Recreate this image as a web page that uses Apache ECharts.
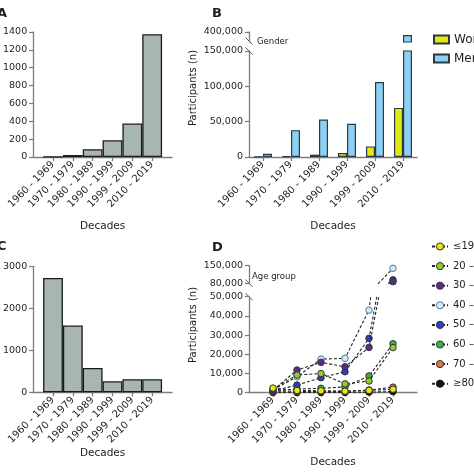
<!DOCTYPE html>
<html><head><meta charset="utf-8">
<script src="https://cdn.jsdelivr.net/npm/echarts@6/dist/echarts.min.js"></script>
<style>html,body{margin:0;padding:0;background:#fff}#c{width:474px;height:474px}</style>
</head><body><div id="c"></div>
<script>
// ---- data ----
const decades = ['1960 - 1969','1970 - 1979','1980 - 1989','1990 - 1999','1999 - 2009','2010 - 2019'];
const studiesA = [2, 22, 88, 188, 375, 1375];
const studiesC = [2720, 1590, 580, 262, 310, 310];
const genderNames = ['Women', 'Men'];
const women = [100, 1000, 3300, 5600, 15000, 69500];
const men = [4700, 38000, 53000, 47000, 106000, 385000];
const ageGroups = ['≤19','20 – 29','30 – 39','40 – 49','50 – 59','60 – 69','70 – 79','≥80'];
const age19 = [2400, 1200, 1000, 800, 1200, 1800];
const age20 = [2000, 9200, 10000, 4600, 6100, 23500];
const age30 = [1200, 11800, 15800, 13500, 23600, 88000];
const age40 = [1500, 8300, 17500, 17900, 43000, 140000];
const age50 = [900, 4000, 7800, 10900, 28300, 95000];
const age60 = [700, 1900, 2300, 3000, 8700, 25500];
const age70 = [300, 600, 700, 700, 1400, 2900];
const age80 = [100, 100, 150, 150, 300, 600];
const ticksA = [0, 200, 400, 600, 800, 1000, 1200, 1400];
const ticksC = [0, 1000, 2000, 3000];
const ticksBLow = [0, 50000, 100000, 150000];
const ticksBHigh = [400000];
const ticksDLow = [0, 10000, 20000, 30000, 40000, 50000];
const ticksDHigh = [80000, 150000];

// ---- styling ----
const FONT = 'DejaVu Sans';
const GREY = '#7d7d7d';
const TXT = '#1e1e1e';
const BAR_GREY = '#a8b6b1';
const womenColor = '#e2ea12';
const menColor = '#8ed0f4';
const ageFill = ['#e6ea10','#92cc2c','#5a2a8f','#d4ebf7','#2c3fc0','#3caf4c','#d77a45','#111111'];
const ageBorder = ['#333','#333','#333','#4b7aa4','#333','#333','#333','#111'];
const ageData = [age19, age20, age30, age40, age50, age60, age70, age80];

const padCat = [''].concat(decades, ['']);
const pad = a => [null].concat(a, [null]);
const fmtComma = v => Number(v).toLocaleString('en-US');
const inRange = (a, lo) => a.map(v => v >= lo ? v : null);

function xCat(gridIndex, data, boundary, show) {
  return {
    gridIndex, type: 'category', data, boundaryGap: boundary, show,
    axisLine: {show: true, lineStyle: {color: GREY, width: 1.3}},
    axisTick: boundary ? {show: true, alignWithLabel: true, length: 4, lineStyle: {color: GREY, width: 1.3}}
                       : {show: true, length: 4, interval: (i) => i > 0 && i < data.length - 1, lineStyle: {color: GREY, width: 1.3}},
    axisLabel: {interval: 0, rotate: 45, margin: 6, fontFamily: FONT, fontSize: 10, color: TXT},
    name: 'Decades', nameLocation: 'middle', nameGap: 64,
    nameTextStyle: {fontFamily: FONT, fontSize: 10.5, color: TXT},
    splitLine: {show: false}
  };
}
function yVal(gridIndex, min, max, ticks, comma) {
  return {
    gridIndex, type: 'value', min, max,
    axisLine: {show: true, lineStyle: {color: GREY, width: 1.3}},
    axisTick: {show: true, length: 4, customValues: ticks, lineStyle: {color: GREY, width: 1.3}},
    axisLabel: {margin: 6, customValues: ticks, formatter: comma ? fmtComma : (v => String(v)),
                fontFamily: FONT, fontSize: 9.5, color: TXT},
    splitLine: {show: false}
  };
}

const grids = [
  {left: 32, top: 32, width: 140, height: 125},      // A
  {left: 249, top: 51, width: 168, height: 106},     // B low
  {left: 249, top: 32, width: 168, height: 10},      // B high
  {left: 32, top: 266.3, width: 140, height: 126},   // C
  {left: 249, top: 296.7, width: 168, height: 96},   // D low
  {left: 249, top: 265.7, width: 168, height: 18}    // D high
];

const xHidden = (gi, data, boundary) => ({gridIndex: gi, type: 'category', data, boundaryGap: boundary, show: false});

const xAxes = [
  xCat(0, padCat, false, true),
  xCat(1, decades, true, true),
  xHidden(2, decades, true),
  Object.assign(xCat(3, padCat, false, true), {nameGap: 51}),
  xCat(4, padCat, false, true),
  xHidden(5, padCat, false)
];
const yAxes = [
  yVal(0, 0, 1400, ticksA, false),
  yVal(1, 0, 150000, ticksBLow, true),
  yVal(2, 350000, 400000, ticksBHigh, true),
  yVal(3, 0, 3000, ticksC, false),
  yVal(4, 0, 50000, ticksDLow, true),
  yVal(5, 80000, 150000, ticksDHigh, true)
];

const barStyle = c => ({color: c, borderColor: '#1a1a1a', borderWidth: 1.3});
const series = [];
series.push({type: 'bar', xAxisIndex: 0, yAxisIndex: 0, data: pad(studiesA), barCategoryGap: '0%', itemStyle: barStyle(BAR_GREY)});
series.push({type: 'bar', xAxisIndex: 3, yAxisIndex: 3, data: pad(studiesC), barCategoryGap: '0%', itemStyle: barStyle(BAR_GREY)});
const gData = [women, men];
const gCol = [womenColor, menColor];
[0, 1].forEach(i => {
  series.push({type: 'bar', name: genderNames[i], xAxisIndex: 1, yAxisIndex: 1, data: gData[i], barWidth: 9, barGap: '0%', clip: true,
    itemStyle: Object.assign(barStyle(gCol[i]), {borderColor: '#2a3a44', borderWidth: 1.2})});
});
[0, 1].forEach(i => {
  series.push({type: 'bar', name: genderNames[i], xAxisIndex: 2, yAxisIndex: 2, data: inRange(gData[i], 350000), barWidth: 9, barGap: '0%', clip: true,
    itemStyle: Object.assign(barStyle(gCol[i]), {borderColor: '#2a3a44', borderWidth: 1.2})});
});
ageGroups.forEach((name, i) => {
  [[4, 4], [5, 5]].forEach(([xi, yi]) => {
    series.push({
      type: 'line', name, xAxisIndex: xi, yAxisIndex: yi, data: pad(ageData[i]), clip: true,
      symbol: 'circle', symbolSize: 6.5, connectNulls: false,
      lineStyle: {color: '#262626', width: 1.1, type: [3, 2]},
      itemStyle: {color: ageFill[i], borderColor: ageBorder[i], borderWidth: 1},
      z: 2 + (7 - i) * 0.01
    });
  });
});

const txt = (t, x, y, font) => ({type: 'text', x, y, silent: true,
  style: {text: t, font, fill: TXT, align: 'left', verticalAlign: 'middle'}});
const vtxt = (t, x, y) => ({type: 'text', x, y, rotation: Math.PI / 2, silent: true,
  style: {text: t, font: '10px ' + FONT, fill: TXT, align: 'center', verticalAlign: 'middle'}});
const slash = (cx, cy) => ({type: 'line', silent: true, shape: {x1: cx - 3.5, y1: cy - 3.5, x2: cx + 3.5, y2: cy + 3.5}, style: {stroke: '#555', lineWidth: 1}});

const graphic = [
  txt('A', -3, 14, 'bold 13px ' + FONT),
  txt('B', 212, 14, 'bold 13px ' + FONT),
  txt('C', -3, 247, 'bold 13px ' + FONT),
  txt('D', 212, 248, 'bold 13px ' + FONT),
  vtxt('Participants (n)', 193, 88),
  vtxt('Participants (n)', 193, 325),
  txt('Gender', 257, 42, '8.5px ' + FONT),
  txt('Age group', 252, 277, '8.5px ' + FONT),
  slash(249, 41), slash(249, 51),
  slash(249, 283.2), slash(249, 296.7)
];

const chart = echarts.init(document.getElementById('c'), null, {renderer: 'canvas'});
chart.setOption({
  animation: false,
  backgroundColor: '#fff',
  grid: grids,
  xAxis: xAxes,
  yAxis: yAxes,
  legend: [
    {data: genderNames, left: 433, top: 32.5, padding: 0, orient: 'vertical', icon: 'rect', itemWidth: 15, itemHeight: 8, itemGap: 5,
     textStyle: {fontFamily: FONT, fontSize: 12, lineHeight: 14, color: TXT}, selectedMode: false},
    {data: ageGroups, left: 431, top: 240.5, padding: 0, orient: 'vertical', itemWidth: 16, itemHeight: 9, itemGap: 7.6,
     itemStyle: {borderWidth: 1},
     textStyle: {fontFamily: FONT, fontSize: 10, lineHeight: 12, color: TXT}, selectedMode: false}
  ],
  graphic,
  series
});
</script>
</body></html>
